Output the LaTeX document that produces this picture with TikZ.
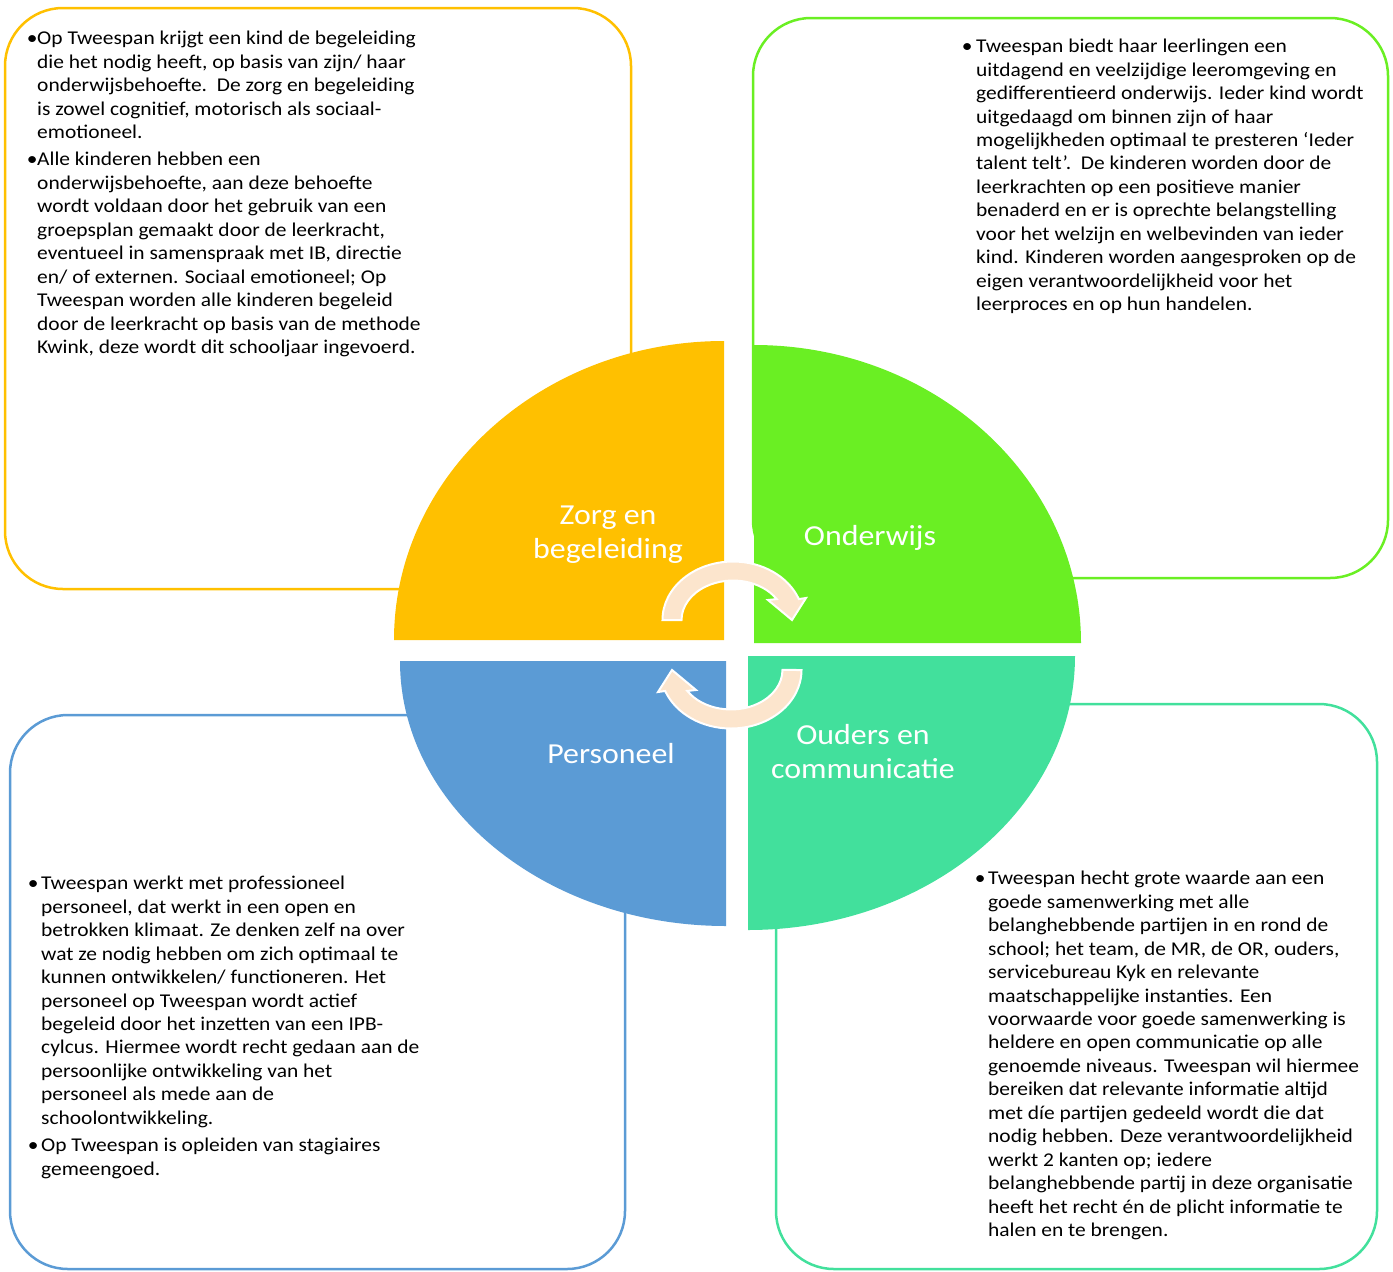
\documentclass[tikz,border=0pt]{standalone}
\usepackage{fontspec}
\setmainfont{Carlito}[FakeStretch=1.1]
\newlength{\bgap}
\newcommand{\bl}{\llap{\makebox[\bgap][c]{\textbullet}}}
\definecolor{zorg}{HTML}{FFC000}
\definecolor{onderwijs}{HTML}{6AEF23}
\definecolor{personeel}{HTML}{5B9BD5}
\definecolor{ouders}{HTML}{42E09C}
\definecolor{cyclus}{HTML}{FCE5CD}

\begin{document}
\begin{tikzpicture}[x=1pt, y=1pt,
    kader/.style={line width=2.5pt, rounded corners=58pt},
    quadtekst/.style={white, align=center, inner sep=0pt, font=\fontsize{29}{34}\selectfont},
    uitleg/.style={anchor=north west, inner sep=0pt, align=left,
      font=\fontsize{19.5}{23.45}\selectfont\setlength{\bgap}{#1}},
    cycluspijl/.pic={
      \filldraw[fill=cyclus, draw=white, line width=2pt]
        (-70.5,0) arc[start angle=180, end angle=21, x radius=70.5pt, y radius=58.5pt]
        -- (73,22) -- (59,0) -- (35,20) -- (43.7,20.9)
        arc[start angle=32, end angle=180, x radius=51.5pt, y radius=39.5pt] -- cycle;
    }]

    \useasboundingbox (0,0) rectangle (1393,-1272);

    % Kaders
    \draw[kader, zorg] (5,-8) rectangle (631,-589);
    \draw[kader, onderwijs] (753,-18) rectangle (1388,-578);
    \draw[kader, personeel] (10,-715) rectangle (625,-1269);
    \draw[kader, ouders] (776,-704) rectangle (1377,-1269);

    % Kwadranten
    \fill[zorg] (724,-640) -- (394,-640) arc[start angle=180, end angle=90, x radius=330pt, y radius=299pt] -- cycle;
    \fill[onderwijs] (754,-643) -- (754,-345) arc[start angle=90, end angle=0, x radius=327pt, y radius=298pt] -- cycle;
    \fill[personeel] (726,-661) -- (400,-661) arc[start angle=180, end angle=270, x radius=326pt, y radius=265pt] -- cycle;
    \fill[ouders] (748,-656) -- (748,-930) arc[start angle=270, end angle=360, x radius=327pt, y radius=274pt] -- cycle;

    \node[quadtekst] (zorgtekst) at (608,-535) {Zorg en\\begeleiding};
    \node[quadtekst] (onderwijstekst) at (870,-538) {Onderwijs};
    \node[quadtekst] (personeeltekst) at (611,-754) {Personeel};
    \node[quadtekst] (ouderstekst) at (863,-752) {Ouders en\\communicatie};

    % Pijlen
    \pic at (733,-620) {cycluspijl};
    \pic[rotate=180] at (731,-670) {cycluspijl};

    % Teksten
    \node[uitleg=10pt] (zorguitleg) at (37,-31) {%
      \bl Op Tweespan krijgt een kind de begeleiding\\
      die het nodig heeft, op basis van zijn/ haar\\
      onderwijsbehoefte.\ \ De zorg en begeleiding\\
      is zowel cognitief, motorisch als sociaal-\\
      emotioneel.\\[4pt]
      \bl Alle kinderen hebben een\\
      onderwijsbehoefte, aan deze behoefte\\
      wordt voldaan door het gebruik van een\\
      groepsplan gemaakt door de leerkracht,\\
      eventueel in samenspraak met IB, directie\\
      en/ of externen. Sociaal emotioneel; Op\\
      Tweespan worden alle kinderen begeleid\\
      door de leerkracht op basis van de methode\\
      Kwink, deze wordt dit schooljaar ingevoerd.};

    \node[uitleg=18pt] (onderwijsuitleg) at (976,-39) {%
      \bl Tweespan biedt haar leerlingen een\\
      uitdagend en veelzijdige leeromgeving en\\
      gedifferentieerd onderwijs. Ieder kind wordt\\
      uitgedaagd om binnen zijn of haar\\
      mogelijkheden optimaal te presteren ‘Ieder\\
      talent telt’.\ \ De kinderen worden door de\\
      leerkrachten op een positieve manier\\
      benaderd en er is oprechte belangstelling\\
      voor het welzijn en welbevinden van ieder\\
      kind. Kinderen worden aangesproken op de\\
      eigen verantwoordelijkheid voor het\\
      leerproces en op hun handelen.};

    \node[uitleg=16pt] (personeeluitleg) at (41,-876) {%
      \bl Tweespan werkt met professioneel\\
      personeel, dat werkt in een open en\\
      betrokken klimaat. Ze denken zelf na over\\
      wat ze nodig hebben om zich optimaal te\\
      kunnen ontwikkelen/ functioneren. Het\\
      personeel op Tweespan wordt actief\\
      begeleid door het inzetten van een IPB-\\
      cylcus. Hiermee wordt recht gedaan aan de\\
      persoonlijke ontwikkeling van het\\
      personeel als mede aan de\\
      schoolontwikkeling.\\[4pt]
      \bl Op Tweespan is opleiden van stagiaires\\
      gemeengoed.};

    \node[uitleg=16pt] (oudersuitleg) at (988,-871) {%
      \bl Tweespan hecht grote waarde aan een\\
      goede samenwerking met alle\\
      belanghebbende partijen in en rond de\\
      school; het team, de MR, de OR, ouders,\\
      servicebureau Kyk en relevante\\
      maatschappelijke instanties. Een\\
      voorwaarde voor goede samenwerking is\\
      heldere en open communicatie op alle\\
      genoemde niveaus. Tweespan wil hiermee\\
      bereiken dat relevante informatie altijd\\
      met díe partijen gedeeld wordt die dat\\
      nodig hebben. Deze verantwoordelijkheid\\
      werkt 2 kanten op; iedere\\
      belanghebbende partij in deze organisatie\\
      heeft het recht én de plicht informatie te\\
      halen en te brengen.};

\end{tikzpicture}
\end{document}
